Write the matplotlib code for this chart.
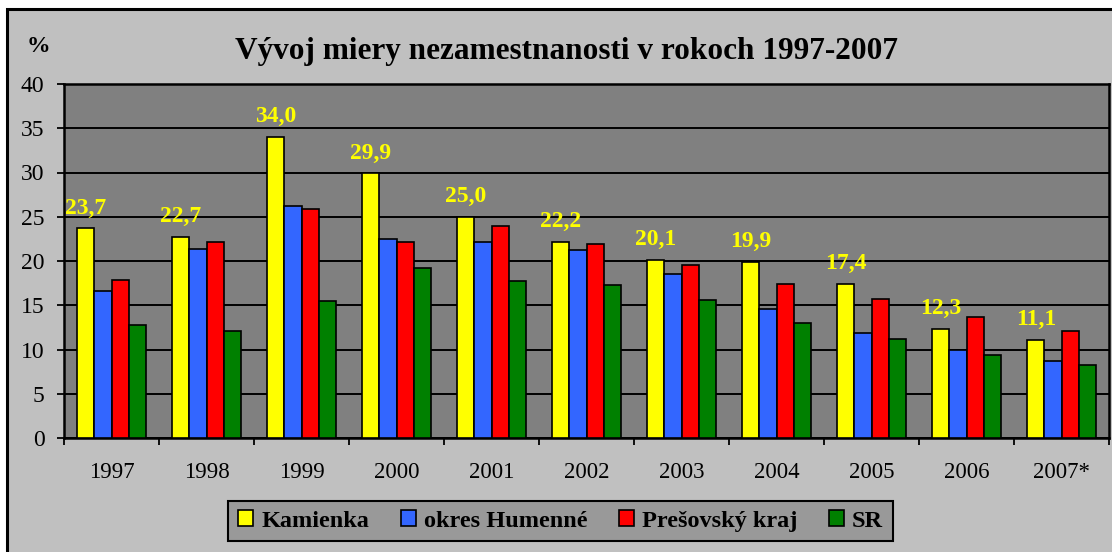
import numpy as np
import matplotlib
matplotlib.use("Agg")
import matplotlib.pyplot as plt
from matplotlib.patches import Rectangle

years = ["1997", "1998", "1999", "2000", "2001", "2002", "2003", "2004", "2005", "2006", "2007*"]
kamienka = [23.7, 22.7, 34.0, 29.9, 25.0, 22.2, 20.1, 19.9, 17.4, 12.3, 11.1]
humenne = [16.6, 21.4, 26.2, 22.5, 22.1, 21.2, 18.5, 14.6, 11.9, 9.9, 8.7]
presov = [17.8, 22.1, 25.9, 22.1, 23.9, 21.9, 19.6, 17.4, 15.7, 13.7, 12.1]
sr = [12.8, 12.1, 15.5, 19.2, 17.7, 17.3, 15.6, 13.0, 11.2, 9.4, 8.3]

series_names = ["Kamienka", "okres Humenné", "Prešovský kraj", "SR"]
series_colors = ["#FFFF00", "#3366FF", "#FF0000", "#008000"]

plt.rcParams["font.family"] = ["Liberation Serif", "DejaVu Serif"]

W, H = 1112, 552
fig = plt.figure(figsize=(W / 100, H / 100), dpi=100, facecolor="white")

# outer chart frame (grey area with black border)
fig.patches.append(Rectangle((7 / W, -0.1), 1.2, (H - 9) / H + 0.1, transform=fig.transFigure,
                             facecolor="#C0C0C0", edgecolor="black", linewidth=2.2, zorder=-10))

ax = fig.add_axes([64 / W, (H - 438) / H, (1109 - 64) / W, (438 - 84) / H])
ax.set_zorder(1)
ax.set_facecolor("#808080")

x = np.arange(len(years))
bw = 0.18
data = [kamienka, humenne, presov, sr]
handles = []
for i, (vals, name, col) in enumerate(zip(data, series_names, series_colors)):
    b = ax.bar(x + (i - 1.5) * bw, vals, width=bw, color=col, edgecolor="black",
               linewidth=1.2, label=name, zorder=3)
    handles.append(b)

# value labels above Kamienka bars
for xi, v in zip(x, kamienka):
    ax.annotate(f"{v:.1f}".replace(".", ","), (xi - 1.5 * bw, v), xytext=(0, 7),
                textcoords="offset points", ha="center", va="bottom",
                color="#FFFF00", fontsize=17, fontweight="bold", zorder=4)

ax.set_xlim(-0.5, len(years) - 0.5)
ax.set_ylim(0, 40)
ax.set_yticks(range(0, 41, 5))
ax.yaxis.grid(True, color="black", linewidth=1.4, zorder=1)
ax.set_axisbelow(True)
ax.tick_params(axis="y", labelsize=17, length=5, width=1.3, pad=9, direction="out")

ax.set_xticks(x)
ax.set_xticklabels(years)
ax.set_xticks(np.arange(-0.5, len(years)), minor=True)
ax.tick_params(axis="x", which="major", length=0, labelsize=16.5, pad=17)
ax.tick_params(axis="x", which="minor", length=5, width=1.3, direction="out")

for s in ax.spines.values():
    s.set_linewidth(1.8)
    s.set_color("black")

fig.text(566 / W, 1 - 59 / H, "Vývoj miery nezamestnanosti v rokoch 1997-2007",
         ha="center", va="baseline", fontsize=22.5, fontweight="bold")
fig.text(38 / W, 1 - 46 / H, "%", ha="center", va="center", fontsize=17, fontweight="bold")

leg = fig.legend(handles=handles, labels=series_names, loc="center",
                 bbox_to_anchor=((225 + 896) / 2 / W, 1 - 521 / H), ncol=4,
                 frameon=True, fancybox=False, facecolor="#999999", edgecolor="black",
                 prop={"size": 17.5, "weight": "bold"}, handlelength=0.62, handleheight=0.62,
                 handletextpad=0.33, columnspacing=1.3, borderpad=0.4)
leg.get_frame().set_linewidth(1.5)
leg.get_frame().set_alpha(None)

fig.savefig("out.png", dpi=100, facecolor=fig.get_facecolor())
